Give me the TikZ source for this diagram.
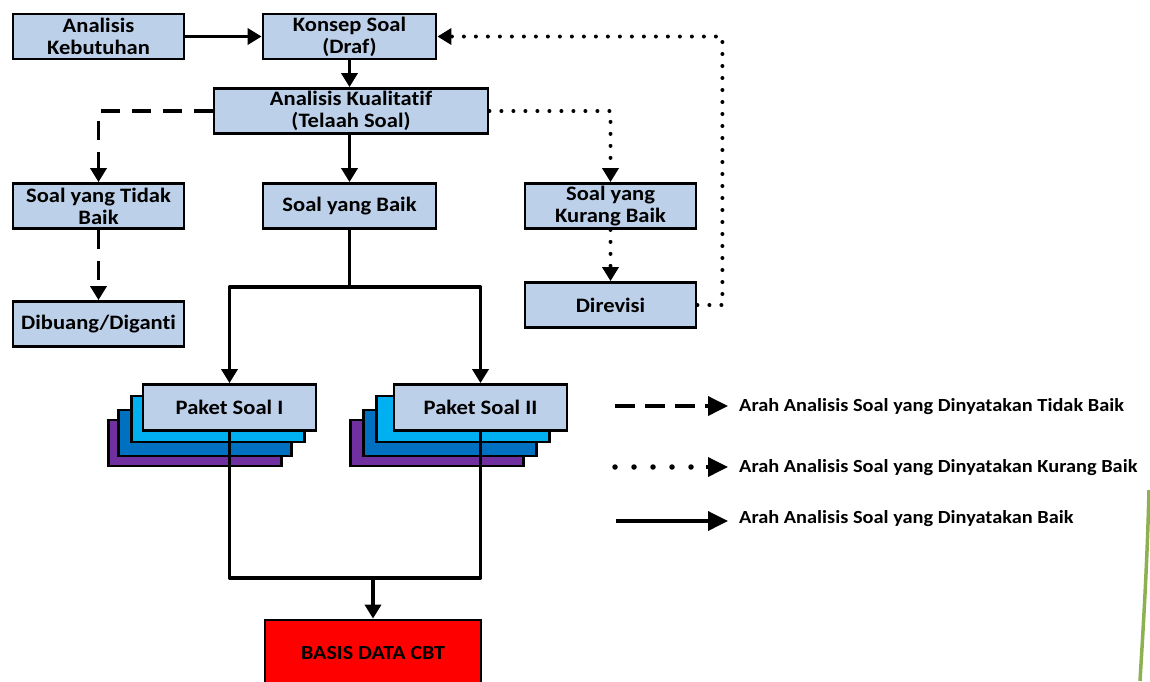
\documentclass[tikz,border=0pt]{standalone}
\usepackage{fontspec}
\setmainfont{Carlito}[FakeStretch=1.1, Ligatures=NoCommon]
\usetikzlibrary{arrows.meta}
\definecolor{boxblue}{HTML}{BDD0E9}
\definecolor{scyan}{HTML}{00B0F0}
\definecolor{sblue}{HTML}{0070C0}
\definecolor{spurple}{HTML}{7030A0}
\definecolor{leaf}{HTML}{8DB050}
\tikzset{
  box/.style={draw=black, line width=2.8pt, fill=boxblue, align=center,
    font=\fontsize{20.5}{22}\selectfont\bfseries, inner sep=0pt,
    minimum width=171pt, minimum height=45pt},
  stackbox/.style={draw=black, line width=2.8pt, minimum width=173pt, minimum height=46pt, inner sep=0pt},
  tip/.style={-{Triangle[width=16pt,length=14pt]}},
  bigtip/.style={-{Triangle[width=19pt,length=20pt]}},
  solidline/.style={line width=3.6pt, line join=round},
  dashline/.style={line width=3.6pt, dash pattern=on 19pt off 12pt},
  legdash/.style={line width=4pt, dash pattern=on 20pt off 10pt},
  dotline/.style={line width=4pt, line cap=round, dash pattern=on 0pt off 12pt},
  legdot/.style={line width=5.5pt, line cap=round, dash pattern=on 0pt off 19pt},
  legtext/.style={anchor=base west, inner sep=0pt, font=\fontsize{18.5}{20}\selectfont\bfseries},
}
\begin{document}
\begin{tikzpicture}[x=1pt,y=-1pt]
\useasboundingbox (0,0) rectangle (1150,681);
% leaf artifact at right edge
\draw[leaf, line width=3.5pt] (1149,490) .. controls (1147,570) and (1143,630) .. (1140,681);

% main boxes
\node[box] (kebutuhan) at (98.5,36.5) {Analisis\\Kebutuhan};
\node[box, minimum width=173pt] (konsep) at (349.5,36.5) {Konsep Soal\\(Draf)};
\node[box, minimum width=274pt] (kual) at (351,111) {Analisis Kualitatif\\(Telaah Soal)};
\node[box] (tidak) at (98.5,206) {Soal yang Tidak\\Baik};
\node[box, minimum width=173pt] (baik) at (349.5,206) {Soal yang Baik};
\node[box] (kurang) at (610.5,206) {Soal yang\\Kurang Baik};
\node[box] (dibuang) at (98.5,324) {Dibuang/Diganti};
\node[box] (direvisi) at (610.5,305) {Direvisi};

% paket stacks
\node[stackbox, fill=spurple] (p1d) at (195,443) {};
\node[stackbox, fill=sblue] (p1c) at (205,433) {};
\node[stackbox, fill=scyan] (p1b) at (218,419) {};
\node[box, minimum width=173pt, minimum height=46pt] (p1) at (229.5,407.5) {Paket Soal I};

\node[stackbox, fill=spurple] (p2d) at (437,443) {};
\node[stackbox, fill=sblue] (p2c) at (450,433) {};
\node[stackbox, fill=scyan] (p2b) at (463,419) {};
\node[box, minimum width=173pt, minimum height=46pt] (p2) at (480.5,407.5) {Paket Soal II};

\node[box, fill=red, minimum width=216pt, minimum height=72pt] (basis) at (373,656) {};
\node[font=\fontsize{20}{21}\selectfont\bfseries, inner sep=0pt] (basistext) at (373,653) {BASIS DATA CBT};

% connectors
\draw[solidline, tip] (kebutuhan.east) -- (konsep.west);
\draw[solidline, tip] (konsep.south) -- (kual.north -| konsep.south);
\draw[solidline, tip] (kual.south -| baik.north) -- (baik.north);
\draw[dashline, tip] (kual.west) -| (tidak.north);
\draw[dotline] (kual.east) -| ([yshift=14pt]kurang.north);
\draw[solidline, tip] ([yshift=14pt]kurang.north) -- (kurang.north);
\draw[dashline, tip] (tidak.south) -- (dibuang.north);
\draw[dotline] (kurang.south) -- ([yshift=14pt]direvisi.north);
\draw[solidline, tip] ([yshift=14pt]direvisi.north) -- (direvisi.north);
\draw[dotline] (direvisi.east) -- ++(25,0) |- ([xshift=14pt]konsep.east);
\draw[solidline, tip] ([xshift=14pt]konsep.east) -- (konsep.east);

\coordinate (split) at (349.5,287);
\draw[solidline] (baik.south) -- (split);
\draw[solidline, tip] (split) -| (p1.north);
\draw[solidline, tip] (split) -| (p2.north);

\coordinate (merge) at (373,578);
\draw[solidline] (p1.south) |- (merge) -| (p2.south);
\draw[solidline, tip] (merge) -- (basis.north);

% legend
\node[legtext] (l1) at (739,411) {Arah Analisis Soal yang Dinyatakan Tidak Baik};
\node[legtext] (l2) at (739,472) {Arah Analisis Soal yang Dinyatakan Kurang Baik};
\node[legtext] (l3) at (739,523) {Arah Analisis Soal yang Dinyatakan Baik};
\coordinate (l1s) at (615,406);
\coordinate (l2s) at (615,467);
\coordinate (l3s) at (616,521);
\coordinate (l1a) at (708,406);
\coordinate (l2a) at (706,467);
\draw[legdash] (l1s) -- (l1a);
\draw[solidline, bigtip] (l1a) -- ([xshift=-11pt]l1.west |- l1s);
\draw[legdot] (l2s) -- (l2a);
\draw[solidline, bigtip] (l2a) -- ([xshift=-11pt]l2.west |- l2s);
\draw[solidline, bigtip] (l3s) -- ([xshift=-11pt]l3.west |- l3s);
\end{tikzpicture}
\end{document}
